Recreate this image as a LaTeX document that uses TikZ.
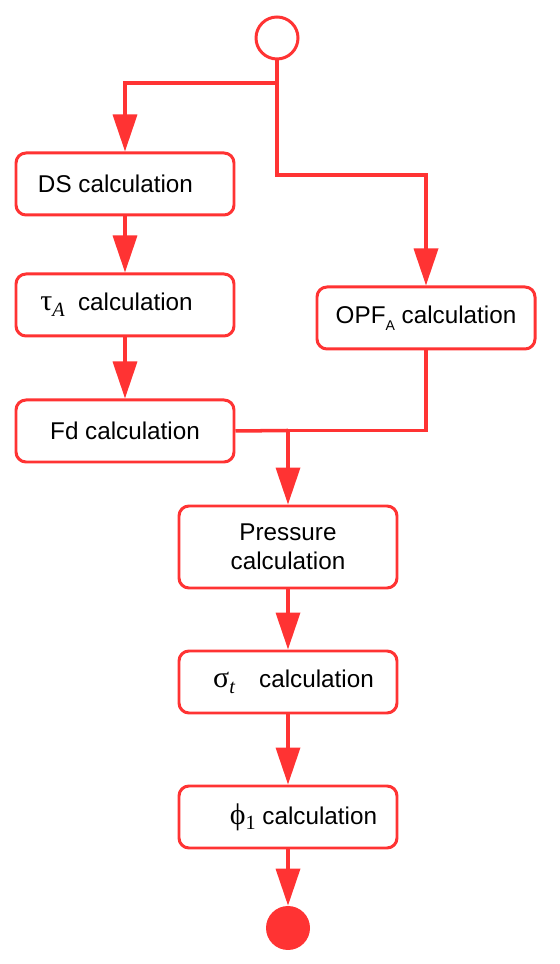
\documentclass[tikz,border=0pt]{standalone}
\usepackage{fontspec}
\setmainfont{Liberation Sans}
\newfontfamily\greekfont{Liberation Serif}
\usetikzlibrary{arrows.meta}
\definecolor{flowred}{RGB}{255,51,51}
\newcommand{\GreekSym}[1]{{\greekfont\fontsize{17}{17}\selectfont #1}}
\newcommand{\GreekSub}[1]{\raisebox{-0.45ex}{\greekfont\fontsize{11.5}{11.5}\selectfont #1}}

\begin{document}
\begin{tikzpicture}[>={Triangle[length=0.74cm, width=0.48cm]}, scale=1,
activity/.style={draw=flowred, line width=1.7pt, rounded corners=0.2cm, fill=white,
  minimum width=4.36cm, minimum height=1.24cm, inner sep=0, align=center,
  font=\fontsize{13.8}{16.6}\selectfont},
flow/.style={->, draw=flowred, line width=2pt},
link/.style={draw=flowred, line width=2pt},
startstate/.style={circle, draw=flowred, line width=1.7pt, fill=white, minimum size=0.84cm, inner sep=0},
endstate/.style={circle, fill=flowred, minimum size=0.88cm, inner sep=0},
]

%%%%%%%%%%%% SIZE OF THE PICTURE
\useasboundingbox (0,0) rectangle (11.2,19.28);

%%%%%%%%%%%%%%%%%%%%%%%% NODES %%%%%%%%%%%%%%%%%%%%%%%%%%%
\node[startstate] (Start) at (5.54,18.52) {};
\node[activity] (DSCalc) at (2.5,15.60) {DS calculation\hspace*{0.38cm}};
\node[activity] (TauCalc) at (2.5,13.18) {\GreekSym{τ}\GreekSub{\itshape A}\ \ calculation\hspace*{0.34cm}};
\node[activity] (FdCalc) at (2.5,10.66) {Fd calculation};
\node[activity] (OPFCalc) at (8.52,12.92) {OPF\raisebox{-0.55ex}{\fontsize{8}{9}\selectfont A} calculation};
\node[activity, minimum height=1.64cm] (PressureCalc) at (5.76,8.34) {Pressure\\calculation};
\node[activity] (SigmaCalc) at (5.76,5.64) {\hspace*{0.22cm}\GreekSym{σ}\GreekSub{\itshape t}\quad calculation};
\node[activity] (PhiCalc) at (5.76,2.94) {\hspace*{0.62cm}\GreekSym{ϕ}\GreekSub{1} calculation};
\node[endstate] (End) at (5.76,0.72) {};

%%%%%%%%%% HELPER POINTS
\coordinate (Split) at (5.54,17.62);
\coordinate (Turn) at (5.54,15.78);
\coordinate (Join) at (5.76,10.67);

%%%%%%%%%%%%%%%%%%%%%%%% CONNECTORS %%%%%%%%%%%%%%%%%%%%%%%%%%%
\draw[flow] (Start.south) -- (Turn) -| (OPFCalc.north);
\draw[flow] (Split) -| (DSCalc.north);
\draw[flow] (DSCalc) -- (TauCalc);
\draw[flow] (TauCalc) -- (FdCalc);
\draw[link] (FdCalc.east) -- (Join);
\draw[link] (OPFCalc.south) |- (Join);
\draw[flow] (Join) -- (PressureCalc.north);
\draw[flow] (PressureCalc) -- (SigmaCalc);
\draw[flow] (SigmaCalc) -- (PhiCalc);
\draw[flow] (PhiCalc) -- (End);
\end{tikzpicture}
\end{document}
